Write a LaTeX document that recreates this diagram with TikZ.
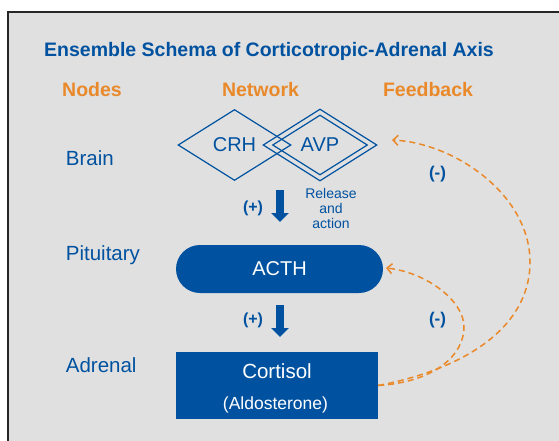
\documentclass[tikz,border=0pt]{standalone}
\usepackage{fontspec}
\setmainfont{Liberation Sans}
\usepackage{tikz}
\usetikzlibrary{shapes.geometric,arrows.meta}

\definecolor{axisblue}{RGB}{0,82,160}
\definecolor{fborange}{RGB}{233,137,42}
\definecolor{panelgray}{RGB}{224,224,224}

\begin{document}
\begin{tikzpicture}[x=1pt, y=-1pt,
  txt/.style={text=axisblue, font=\fontsize{20.5}{24}\selectfont},
  level/.style={txt, anchor=base west, inner sep=0pt},
  colhead/.style={text=fborange, font=\bfseries\fontsize{19.5}{23}\selectfont, anchor=base},
  sign/.style={text=axisblue, font=\bfseries\fontsize{16}{19}\selectfont},
  gland/.style={diamond, draw=axisblue, line width=1.2pt, inner sep=0pt,
                minimum width=113pt, minimum height=71pt, text=axisblue,
                font=\fontsize{20}{24}\selectfont},
  hormone/.style={fill=axisblue, text=white, inner sep=0pt, font=\fontsize{20}{24}\selectfont},
  push/.style={draw=axisblue, line width=8.6pt, -{Triangle[length=9pt,width=17pt]}},
  fb/.style={draw=fborange, line width=1.5pt, dash pattern=on 6pt off 4pt,
             -{Straight Barb[length=5pt,width=10pt]}}]

\useasboundingbox (0,0) rectangle (559,441);
\fill[white] (0,0) rectangle (559,441);
\draw[draw=black!85, line width=1.5pt, fill=panelgray] (8,12) rectangle (575,460);

% title and column heads
\node[anchor=base, text=axisblue, font=\bfseries\fontsize{19.5}{23}\selectfont] (title) at (269,57)
  {Ensemble Schema of Corticotropic-Adrenal Axis};
\node[colhead] (hnodes) at (92,97) {Nodes};
\node[colhead] (hnet) at (260.5,97) {Network};
\node[colhead] (hfb) at (428,97) {Feedback};

% levels
\node[level] (brain) at (65.7,165) {Brain};
\node[level] (pituitary) at (65.7,260) {Pituitary};
\node[level] (adrenal) at (65.7,372) {Adrenal};

% network
\node[gland] (crh) at (234.5,145) {CRH};
\node[gland, minimum width=114pt, minimum height=72pt] (avp) at (320,145) {AVP};
\node[gland, minimum width=95pt, minimum height=60pt] (avpin) at (avp.center) {};

\node[hormone, rounded corners=24pt, minimum width=207pt, minimum height=48pt] (acth) at (279.5,269) {ACTH};

\node[hormone, minimum width=202pt, minimum height=67pt] (cortisol) at (277,385.5) {};
\node[anchor=base, text=white, font=\fontsize{20.5}{24}\selectfont] (cortname) at (277,378) {Cortisol};
\node[anchor=base, text=white, font=\fontsize{17.5}{21}\selectfont] (aldoname) at (275.5,409) {(Aldosterone)};

\coordinate (s1) at (280,190);
\coordinate (e1) at (280,222);
\coordinate (s2) at (280,305);
\coordinate (e2) at (280,337);
\draw[push] (s1) -- (e1);
\draw[push] (s2) -- (e2);

\node[sign] (plus1) at (253,208) {(+)};
\node[sign] (plus2) at (253,320) {(+)};
\node[txt, font=\fontsize{14}{15}\selectfont, align=center] (release) at (331,208) {Release\\and\\action};

% feedback loops
\coordinate (fbtop) at (392,140);
\coordinate (fbmid) at (386,268);
\draw[fb] (cortisol.east) .. controls (460,370) and (530,330) .. (530,262)
  .. controls (530,195) and (455,143) .. (fbtop);
\draw[fb] (cortisol.east) .. controls (435,382) and (464,355) .. (464,327)
  .. controls (464,300) and (425,272) .. (fbmid);

\node[sign, font=\bfseries\fontsize{17}{20}\selectfont] (minus1) at (437.5,174) {(-)};
\node[sign, font=\bfseries\fontsize{17}{20}\selectfont] (minus2) at (437.5,320) {(-)};

\end{tikzpicture}
\end{document}
